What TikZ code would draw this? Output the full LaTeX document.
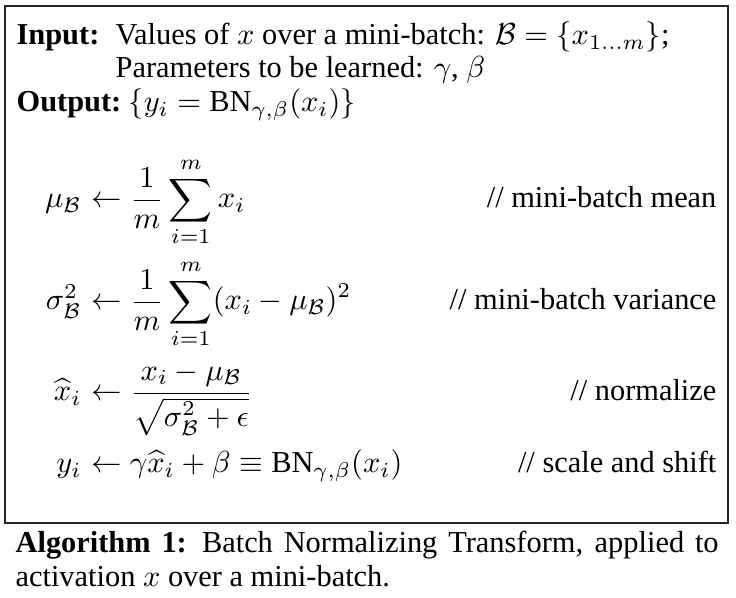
\documentclass[tikz,border=0pt]{standalone}
\usepackage{amsmath,amssymb}
\usepackage[no-math]{fontspec}
\setmainfont{Liberation Serif}

\begin{document}
\begin{tikzpicture}[
    x=0.329pt, y=-0.329pt,
    lefttext/.style={inner sep=0pt, anchor=base west},
    righttext/.style={inner sep=0pt, anchor=base east}
 ]
\def\xLeft{16}
\def\xText{115}
\def\xAlign{82}
\def\xRight{717}
\def\yMu{208}
\def\ySigma{310}
\def\yHat{401}
\def\yOut{473}

\useasboundingbox (0,0) rectangle (736,598);
\draw[line width=0.55pt, black!85] (5,6) rectangle (728,523);

\node[lefttext] (inlabel) at (\xLeft,45) {\textbf{Input:}};
\node[lefttext] (invalues) at (\xText,45) {Values of $x$ over a mini-batch: $\mathcal{B}=\{x_{1\ldots m}\}$;};
\node[lefttext] (inparams) at (\xText,78) {Parameters to be learned: $\gamma$, $\beta$};
\node[lefttext] (outlabel) at (\xLeft,112) {\textbf{Output:}};
\node[lefttext] (outvalues) at (128,112) {$\{y_i=\text{BN}_{\gamma,\beta}(x_i)\}$};

\node[righttext] (mulhs) at (\xAlign,\yMu) {$\mu_{\mathcal{B}}$};
\node[lefttext] (murhs) at (\xAlign,\yMu) {$\displaystyle {}\leftarrow\frac{1}{m}\sum_{i=1}^{m}x_i$};
\node[righttext] (mucom) at (\xRight,\yMu) {// mini-batch mean};

\node[righttext] (sigmalhs) at (\xAlign,\ySigma) {$\sigma_{\mathcal{B}}^2$};
\node[lefttext] (sigmarhs) at (\xAlign,\ySigma) {$\displaystyle {}\leftarrow\frac{1}{m}\sum_{i=1}^{m}(x_i-\mu_{\mathcal{B}})^2$};
\node[righttext] (sigmacom) at (\xRight,\ySigma) {// mini-batch variance};

\node[righttext] (hatlhs) at (\xAlign,\yHat) {$\widehat{x}_i$};
\node[lefttext] (hatrhs) at (\xAlign,\yHat) {$\displaystyle {}\leftarrow\frac{x_i-\mu_{\mathcal{B}}}{\sqrt{\sigma_{\mathcal{B}}^2+\epsilon}}$};
\node[righttext] (hatcom) at (\xRight,\yHat) {// normalize};

\node[righttext] (outlhs) at (\xAlign,\yOut) {$y_i$};
\node[lefttext] (outrhs) at (\xAlign,\yOut) {$\displaystyle {}\leftarrow\gamma\widehat{x}_i+\beta\equiv\text{BN}_{\gamma,\beta}(x_i)$};
\node[righttext] (outcom) at (\xRight,\yOut) {// scale and shift};

\node[lefttext] (capone) at (15,553) {\makebox[231.3pt][s]{\textbf{Algorithm 1:}\enspace Batch Normalizing Transform, applied to}};
\node[lefttext] (captwo) at (15,587) {activation $x$ over a mini-batch.};

\end{tikzpicture}
\end{document}
